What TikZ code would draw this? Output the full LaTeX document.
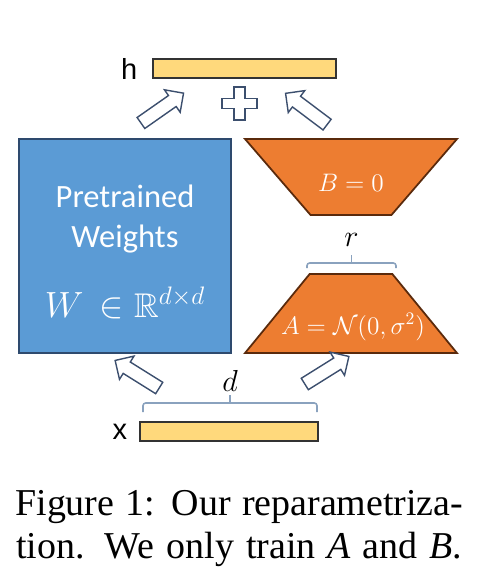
\documentclass[tikz,border=0pt]{standalone}
\usepackage{amsmath}
\usepackage{amssymb}
\usepackage{xcolor}
\usepackage{fontspec}
\setmainfont{Liberation Serif}
\newfontfamily\calibrifont{Carlito}
\newfontfamily\arialfont{Liberation Sans}
\usepackage{tikz}
\usetikzlibrary{shapes, shapes.geometric, shapes.arrows, positioning, calc}
\definecolor{wblue}{HTML}{5B9BD5}
\definecolor{wnavy}{HTML}{2E4A6E}
\definecolor{lorange}{HTML}{ED7D31}
\definecolor{lbrown}{HTML}{5A2A0C}
\definecolor{vecyellow}{HTML}{FFD97C}
\definecolor{arrowslate}{HTML}{3C4F6E}
\definecolor{bracegray}{HTML}{8AA2BE}
\tikzset{
    vecbar/.style={
        rectangle, minimum width=3.6cm, minimum height=0.38cm, inner sep=0pt,
        draw=black!80, line width=0.6pt, fill=vecyellow
    },
    veclabel/.style={
        inner sep=0pt, font=\arialfont\fontsize{16.5}{19}\selectfont
    },
    weights/.style={
        rectangle, minimum width=4.24cm, minimum height=4.28cm,
        align=center, draw=wnavy, line width=1pt, fill=wblue, text=white,
        font=\calibrifont\fontsize{18.5}{22.8}\selectfont
    },
    lowrank/.style={
        trapezium, trapezium stretches=true, minimum width=4.24cm,
        draw=lbrown, line width=1pt, fill=lorange, inner sep=2pt
    },
    mathtext/.style={
        text=white, inner sep=0pt, font=\fontsize{14.5}{17}\selectfont
    },
    blockarrow/.style={
        single arrow, draw=arrowslate, fill=white, line width=0.8pt,
        minimum height=1.04cm, inner sep=0.12cm,
        single arrow head extend=0.14cm
    },
    plussign/.style={
        draw=arrowslate, fill=white, line width=0.8pt
    },
    bracket/.style={
        draw=bracegray, line width=0.9pt, rounded corners=1.5pt
    },
    dimlabel/.style={
        inner sep=0pt, font=\fontsize{16}{19}\selectfont
    },
    caption/.style={
        anchor=base west, inner sep=0pt, font=\fontsize{21.6}{26}\selectfont
    }
}

\begin{document}
\begin{tikzpicture}[x=0.02cm, y=-0.02cm]
    \useasboundingbox (0,0) rectangle (494,588);
    % vectors h and x
    \node[vecbar, minimum width=3.66cm] (hbar) at (244.5,68.5) {};
    \node[veclabel, left=0.3cm of hbar] (hlab) {h};
    \node[vecbar, minimum width=3.56cm] (xbar) at (229,431.5) {};
    \node[veclabel, left=0.24cm of xbar] (xlab) {x};

    \node[weights] (wbox) at (125,246) {\\[-0.1cm]Pretrained\\Weights\\[0.6cm]{\fontsize{19.5}{24}\selectfont$W\,\in\mathbb{R}^{d\times d}$}};

    % low rank part
    \node[lowrank, shape border rotate=180, trapezium angle=51, minimum height=1.52cm] (Bmat) at (351,177) {};
    \node[mathtext] (Btxt) at (351,183) {$B = 0$};
    \node[lowrank, trapezium angle=52, minimum height=1.58cm] (Amat) at (351,313.5) {};
    \node[mathtext] (Atxt) at (353,327) {$A = \mathcal{N}(0,\sigma^2)$};

    % dimension brackets
    \coordinate (rl) at (307,268);
    \coordinate (rr) at (396,268);
    \draw[bracket] (rl) |- ($(rr)+(0,-5)$) -- (rr);
    \draw[bracket] ($(rl)!0.5!(rr)+(0,-5)$) -- ++(0,-8) node[dimlabel, above=0.16cm] (rlab) {$r$};
    \coordinate (dl) at (143,412);
    \coordinate (dr) at (317,412);
    \draw[bracket] (dl) |- ($(dr)+(0,-9)$) -- (dr);
    \draw[bracket] ($(dl)!0.5!(dr)+(0,-9)$) -- ++(0,-8) node[dimlabel, above=0.06cm] (dlab) {$d$};

    % block arrows
    \node[blockarrow, rotate=35] (outl) at (159.5,110) {};
    \node[blockarrow, rotate=143] (outr) at (309,111) {};
    \node[blockarrow, rotate=148] (inl) at (140,376) {};
    \node[blockarrow, rotate=32] (inr) at (324,372) {};

    \coordinate (plus) at (239.5,103.5);
    \draw[plussign] (plus) ++(-5.5,-16.5) -- ++(11,0) -- ++(0,11.5) -- ++(12,0) -- ++(0,10) -- ++(-12,0)
        -- ++(0,11.5) -- ++(-11,0) -- ++(0,-11.5) -- ++(-12,0) -- ++(0,-10) -- ++(12,0) -- cycle;

    % caption
    \node[caption] (cap1) at (15,515) {\makebox[8.96cm][s]{Figure 1: Our reparametriza-}};
    \node[caption] (cap2) at (16,558) {\makebox[8.92cm][s]{tion. We only train \textit{A} and \textit{B}.}};
\end{tikzpicture}
\end{document}
